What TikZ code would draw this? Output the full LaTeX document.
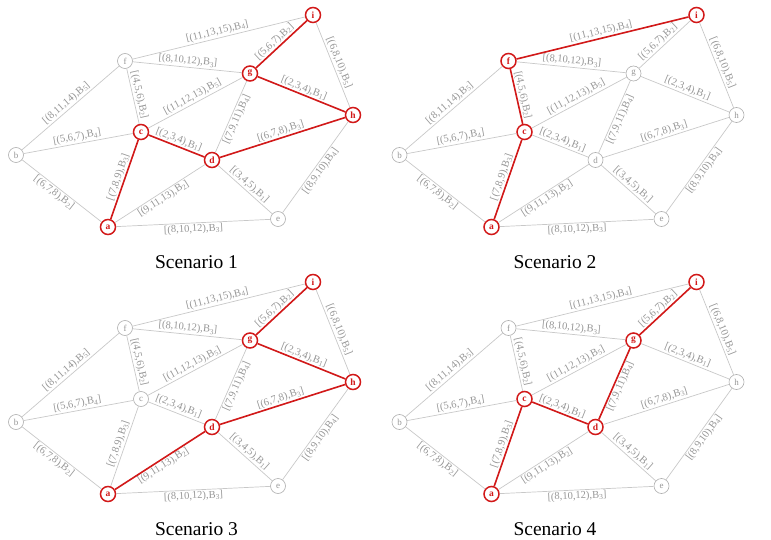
\documentclass[tikz,border=0pt]{standalone}
\usepackage{fontspec}
\setmainfont{Liberation Serif}
\definecolor{rd}{RGB}{210,25,25}
\definecolor{edgegrey}{RGB}{200,200,200}
\definecolor{labgrey}{RGB}{150,150,150}
\definecolor{nodegrey}{RGB}{175,175,175}
\newcommand\sbs[1]{\raisebox{-0.3ex}{\fontsize{7.5}{7.5}\selectfont #1}}
\tikzset{
 gnode/.style={circle, draw=nodegrey, line width=0.6pt, fill=white, minimum size=15pt, inner sep=0pt, text=labgrey, font=\fontsize{9}{9}\selectfont},
 rnode/.style={circle, draw=rd, line width=1.5pt, fill=white, minimum size=15pt, inner sep=0pt, text=rd, font=\fontsize{9.5}{9.5}\selectfont\bfseries},
 gedge/.style={draw=edgegrey, line width=0.7pt},
 redge/.style={draw=rd, line width=1.6pt},
 elab/.style={sloped, text=labgrey, font=\fontsize{10.5}{10.5}\selectfont, inner sep=1.3pt},
 ttl/.style={font=\fontsize{19.5}{19.5}\selectfont, anchor=base, inner sep=0pt}
}
\newcommand\scen[6]{%
\begin{scope}[shift={(#2,-#3)}]
\foreach \n/\x/\y in {a/108/227,b/16/155,c/141/132,d/212/160,e/278/219,f/125/61,g/250/73.5,h/353/115,i/313/15}
  \coordinate (#1p\n) at (\x,-\y);
\foreach \n in {#4} \node[gnode] (#1\n) at (#1p\n) {\n};
\foreach \n in {#5} \node[rnode] (#1\n) at (#1p\n) {\n};
\foreach \u/\v/\t/\an/\p in {
  f/b/{[(8,11,14),B\sbs{5}]}/south/0.5,
  b/c/{[(5,6,7),B\sbs{4}]}/south/0.5,
  b/a/{[(6,7,8),B\sbs{2}]}/north/0.45,
  f/c/{[(4,5,6),B\sbs{2}]}/south/0.5,
  f/i/{[(11,13,15),B\sbs{4}]}/south/0.5,
  f/g/{[(8,10,12),B\sbs{3}]}/south/0.5,
  c/g/{[(11,12,13),B\sbs{5}]}/south/0.5,
  c/d/{[(2,3,4),B\sbs{1}]}/south/0.5,
  a/c/{[(7,8,9),B\sbs{3}]}/south/0.5,
  a/d/{[(9,11,13),B\sbs{2}]}/north/0.5,
  a/e/{[(8,10,12),B\sbs{3}]}/north/0.5,
  d/g/{[(7,9,11),B\sbs{4}]}/north/0.5,
  d/h/{[(6,7,8),B\sbs{3}]}/south/0.5,
  d/e/{[(3,4,5),B\sbs{1}]}/south/0.5,
  g/i/{[(5,6,7),B\sbs{2}]}/south/0.45,
  g/h/{[(2,3,4),B\sbs{1}]}/south/0.5,
  i/h/{[(6,8,10),B\sbs{5}]}/south/0.5,
  h/e/{[(8,9,10),B\sbs{4}]}/north/0.5}
  \draw[gedge] (#1\u) -- node[elab, anchor=\an, pos=\p] {\t} (#1\v);
\foreach \u/\v in {#6} \draw[redge] (#1\u) -- (#1\v);
\end{scope}}
\begin{document}
\begin{tikzpicture}[x=1pt,y=1pt]
\useasboundingbox (0,0) rectangle (771,-540);
\scen{s1}{0}{0}{b,e,f}{a,c,d,g,h,i}{a/c,c/d,d/h,h/g,g/i}
\scen{s2}{383.5}{0}{b,d,e,g,h}{a,c,f,i}{a/c,c/f,f/i}
\scen{s3}{0}{267}{b,c,e,f}{a,d,g,h,i}{a/d,d/h,h/g,g/i}
\scen{s4}{383.5}{267}{b,e,f,h}{a,c,d,g,i}{a/c,c/d,d/g,g/i}
\node[ttl] (t1) at (196.5,-268) {Scenario 1};
\node[ttl] (t2) at (555,-268) {Scenario 2};
\node[ttl] (t3) at (196.5,-535) {Scenario 3};
\node[ttl] (t4) at (555,-535) {Scenario 4};
\end{tikzpicture}
\end{document}
